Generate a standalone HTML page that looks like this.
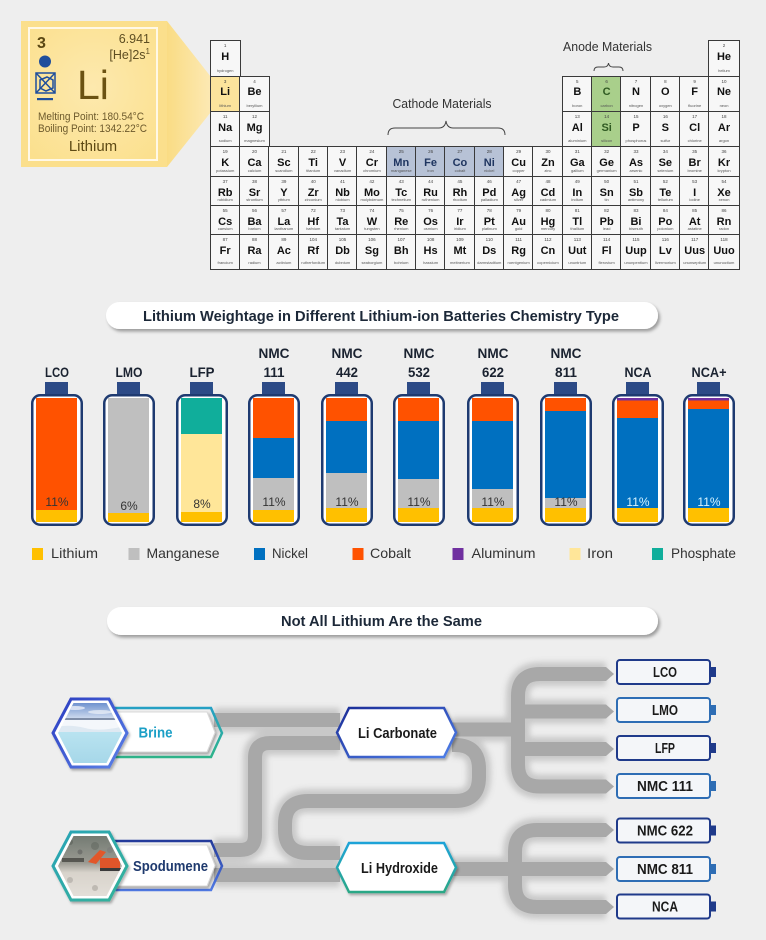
<!DOCTYPE html>
<html><head><meta charset="utf-8">
<style>
html,body{margin:0;padding:0;}
body{width:766px;height:940px;overflow:hidden;background:#eeeeee;position:relative;font-family:"Liberation Sans",sans-serif;}
svg{position:absolute;left:0;top:0;}
#pt{position:absolute;left:210.5px;top:41px;display:grid;grid-template-columns:repeat(18,29.35px);grid-template-rows:35.7px 35.6px 35px 30px 29px 29.2px 34px;}
.c{position:relative;background:#f7f7f7;outline:1px solid #3a3a3a;outline-offset:-0.5px;text-align:center;color:#111;}
.c i{position:absolute;left:0;right:0;top:2px;font-style:normal;font-size:4.5px;line-height:5px;color:#444;}
.c b{position:absolute;left:0;right:0;top:9.5px;font-size:11px;line-height:12px;}
.c s{position:absolute;left:0;right:0;bottom:4px;text-decoration:none;font-size:4px;line-height:5px;color:#555;white-space:nowrap;overflow:hidden;}
.c.li{background:#fce49c;}
.c.ca{background:#b7c2d6;}
.c.ca b{color:#1f3560;}
.c.an{background:#a9cf8b;}
.c.an b{color:#2f5a22;}
</style></head><body>
<svg width="766" height="940" viewBox="0 0 766 940" xmlns="http://www.w3.org/2000/svg" font-family="Liberation Sans, sans-serif">
<defs>
<linearGradient id="beam" x1="0" y1="0" x2="1" y2="0"><stop offset="0" stop-color="#fadc84"/><stop offset="1" stop-color="#fce9b4"/></linearGradient>
<radialGradient id="card" cx="0.5" cy="0.45" r="0.7"><stop offset="0" stop-color="#fde9ae"/><stop offset="1" stop-color="#fbe08e"/></radialGradient>
<filter id="blur" x="-10%" y="-10%" width="120%" height="120%"><feGaussianBlur stdDeviation="3"/></filter>
<filter id="sh" x="-10%" y="-40%" width="125%" height="200%"><feDropShadow dx="2" dy="2.5" stdDeviation="1.5" flood-color="#000" flood-opacity="0.35"/></filter>
<filter id="sh2" x="-10%" y="-20%" width="125%" height="150%"><feDropShadow dx="1.5" dy="2" stdDeviation="1.2" flood-color="#000" flood-opacity="0.3"/></filter>
<linearGradient id="gBrine" x1="0" y1="0" x2="0" y2="1"><stop offset="0" stop-color="#25a0c4"/><stop offset="1" stop-color="#2fb48a"/></linearGradient>
<linearGradient id="gSpod" x1="0" y1="0" x2="0" y2="1"><stop offset="0" stop-color="#233a9a"/><stop offset="1" stop-color="#5079e4"/></linearGradient>
<linearGradient id="gCarb" x1="0" y1="0" x2="1" y2="1"><stop offset="0" stop-color="#1b2c96"/><stop offset="1" stop-color="#4f80ea"/></linearGradient>
<linearGradient id="gHyd" x1="0" y1="0" x2="0" y2="1"><stop offset="0" stop-color="#1fa3d8"/><stop offset="1" stop-color="#2aa886"/></linearGradient>
<linearGradient id="gHexB" x1="0" y1="0" x2="1" y2="1"><stop offset="0" stop-color="#2a3cc0"/><stop offset="1" stop-color="#5c82e8"/></linearGradient>
<linearGradient id="gHexS" x1="0" y1="0" x2="1" y2="1"><stop offset="0" stop-color="#2aa3b6"/><stop offset="1" stop-color="#34b39a"/></linearGradient>
<linearGradient id="sky" x1="0" y1="0" x2="0" y2="1"><stop offset="0" stop-color="#5d84c8"/><stop offset="1" stop-color="#d7e2f2"/></linearGradient>
<linearGradient id="water" x1="0" y1="0" x2="0" y2="1"><stop offset="0" stop-color="#b9e3f0"/><stop offset="1" stop-color="#a4d6e8"/></linearGradient>
<linearGradient id="rock" x1="0" y1="0" x2="0" y2="1"><stop offset="0" stop-color="#6f776f"/><stop offset="0.45" stop-color="#9a9a92"/><stop offset="0.6" stop-color="#d8d3cb"/><stop offset="1" stop-color="#e4e0da"/></linearGradient>
<clipPath id="hb"><polygon points="58,733 73.5,703 106.5,703 122,733 106.5,763 73.5,763"/></clipPath>
<clipPath id="hs"><polygon points="58,866 73.5,836 106.5,836 122,866 106.5,896 73.5,896"/></clipPath>
</defs>

<!-- Li card + beam -->
<polygon points="167,21 211,77 211,112 167,167" fill="url(#beam)"/>
<rect x="21" y="21" width="146" height="146" fill="#fbdf8c"/>
<rect x="29" y="28" width="128" height="132" fill="url(#card)" stroke="#fff8e6" stroke-width="2"/>
<text x="37" y="48" font-size="16" font-weight="bold" fill="#5a4713">3</text>
<text x="150" y="43" font-size="12.5" fill="#5e4e22" text-anchor="end">6.941</text>
<text x="150" y="59" font-size="12.5" fill="#5e4e22" text-anchor="end">[He]2s<tspan font-size="8" dy="-5">1</tspan></text>
<circle cx="45" cy="61.5" r="6" fill="#1f4e9c"/>
<g stroke="#1f4e9c" stroke-width="1.5" fill="none">
<rect x="36" y="73" width="19" height="20"/>
<line x1="36" y1="73" x2="55" y2="93"/><line x1="55" y1="73" x2="36" y2="93"/>
<polygon points="40,80 47,77 53,80 53,88 46,91 40,88"/>
</g>
<rect x="37" y="98" width="16" height="2.2" fill="#1f4e9c"/>
<text x="77" y="99" font-size="41" fill="#6b5212">Li</text>
<text x="38" y="120" font-size="11" fill="#6d5a2c" textLength="106" lengthAdjust="spacingAndGlyphs">Melting Point: 180.54°C</text>
<text x="38" y="132" font-size="11" fill="#6d5a2c" textLength="109" lengthAdjust="spacingAndGlyphs">Boiling Point: 1342.22°C</text>
<text x="93" y="151" font-size="15" fill="#5e4a14" text-anchor="middle">Lithium</text>

<!-- Periodic table labels -->
<text x="442" y="108" font-size="13" fill="#333" text-anchor="middle" textLength="99" lengthAdjust="spacingAndGlyphs">Cathode Materials</text>
<path d="M388 135 Q388 128 395 128 L439 128 Q445 128 446 121 Q447 128 453 128 L498 128 Q505 128 505 135" fill="none" stroke="#444" stroke-width="1"/>
<text x="607.5" y="51" font-size="13" fill="#333" text-anchor="middle" textLength="89" lengthAdjust="spacingAndGlyphs">Anode Materials</text>
<path d="M594 71 Q594 67 598 67 L604 67 Q608 67 608.5 63 Q609 67 613 67 L619 67 Q623 67 623 71" fill="none" stroke="#444" stroke-width="1"/>

<!-- Title pill 1 -->
<rect x="106" y="302" width="552" height="27" rx="13.5" fill="#fff" filter="url(#sh)"/>
<text x="381" y="321" font-size="15" font-weight="bold" fill="#1c2838" text-anchor="middle" textLength="476" lengthAdjust="spacingAndGlyphs">Lithium Weightage in Different Lithium-ion Batteries Chemistry Type</text>

<!-- Battery labels -->
<g font-size="14" font-weight="bold" fill="#1a2230" text-anchor="middle">
<text x="57" y="377" textLength="24" lengthAdjust="spacingAndGlyphs">LCO</text>
<text x="129" y="377" textLength="27" lengthAdjust="spacingAndGlyphs">LMO</text>
<text x="202" y="377" textLength="25" lengthAdjust="spacingAndGlyphs">LFP</text>
<text x="274" y="358" textLength="31" lengthAdjust="spacingAndGlyphs">NMC</text>
<text x="274" y="377" textLength="21" lengthAdjust="spacingAndGlyphs">111</text>
<text x="347" y="358" textLength="31" lengthAdjust="spacingAndGlyphs">NMC</text>
<text x="347" y="377" textLength="22" lengthAdjust="spacingAndGlyphs">442</text>
<text x="419" y="358" textLength="31" lengthAdjust="spacingAndGlyphs">NMC</text>
<text x="419" y="377" textLength="22" lengthAdjust="spacingAndGlyphs">532</text>
<text x="493" y="358" textLength="31" lengthAdjust="spacingAndGlyphs">NMC</text>
<text x="493" y="377" textLength="22" lengthAdjust="spacingAndGlyphs">622</text>
<text x="566" y="358" textLength="31" lengthAdjust="spacingAndGlyphs">NMC</text>
<text x="566" y="377" textLength="22" lengthAdjust="spacingAndGlyphs">811</text>
<text x="638" y="377" textLength="27" lengthAdjust="spacingAndGlyphs">NCA</text>
<text x="709" y="377" textLength="35" lengthAdjust="spacingAndGlyphs">NCA+</text>
</g>

<!-- Battery caps -->
<g fill="#2c4a86">
<rect x="45" y="382" width="23" height="13"/><rect x="117" y="382" width="23" height="13"/><rect x="190" y="382" width="23" height="13"/>
<rect x="262" y="382" width="23" height="13"/><rect x="335" y="382" width="23" height="13"/><rect x="407" y="382" width="23" height="13"/>
<rect x="481" y="382" width="23" height="13"/><rect x="554" y="382" width="23" height="13"/><rect x="626" y="382" width="23" height="13"/>
<rect x="697" y="382" width="23" height="13"/>
</g>
<!-- Battery bodies -->
<g fill="#fff" stroke="#1e3a70" stroke-width="2.5">
<rect x="32.25" y="395.25" width="49.5" height="129.5" rx="8"/>
<rect x="104.25" y="395.25" width="49.5" height="129.5" rx="8"/>
<rect x="177.25" y="395.25" width="49.5" height="129.5" rx="8"/>
<rect x="249.25" y="395.25" width="49.5" height="129.5" rx="8"/>
<rect x="322.25" y="395.25" width="49.5" height="129.5" rx="8"/>
<rect x="394.25" y="395.25" width="49.5" height="129.5" rx="8"/>
<rect x="468.25" y="395.25" width="49.5" height="129.5" rx="8"/>
<rect x="541.25" y="395.25" width="49.5" height="129.5" rx="8"/>
<rect x="613.25" y="395.25" width="49.5" height="129.5" rx="8"/>
<rect x="684.25" y="395.25" width="49.5" height="129.5" rx="8"/>
</g>
<!-- LCO -->
<rect x="36" y="398" width="41" height="112" fill="#ff5200"/><rect x="36" y="510" width="41" height="12" fill="#ffc000"/>
<!-- LMO -->
<rect x="108" y="398" width="41" height="115" fill="#bfbfbf"/><rect x="108" y="513" width="41" height="9" fill="#ffc000"/>
<!-- LFP -->
<rect x="181" y="398" width="41" height="36" fill="#10ae9b"/><rect x="181" y="434" width="41" height="78" fill="#ffe699"/><rect x="181" y="512" width="41" height="10" fill="#ffc000"/>
<!-- NMC111 -->
<rect x="253" y="398" width="41" height="40" fill="#ff5200"/><rect x="253" y="438" width="41" height="40" fill="#0070c0"/><rect x="253" y="478" width="41" height="32" fill="#bfbfbf"/><rect x="253" y="510" width="41" height="12" fill="#ffc000"/>
<!-- NMC442 -->
<rect x="326" y="398" width="41" height="23" fill="#ff5200"/><rect x="326" y="421" width="41" height="52" fill="#0070c0"/><rect x="326" y="473" width="41" height="35" fill="#bfbfbf"/><rect x="326" y="508" width="41" height="14" fill="#ffc000"/>
<!-- NMC532 -->
<rect x="398" y="398" width="41" height="23" fill="#ff5200"/><rect x="398" y="421" width="41" height="58" fill="#0070c0"/><rect x="398" y="479" width="41" height="29" fill="#bfbfbf"/><rect x="398" y="508" width="41" height="14" fill="#ffc000"/>
<!-- NMC622 -->
<rect x="472" y="398" width="41" height="23" fill="#ff5200"/><rect x="472" y="421" width="41" height="68" fill="#0070c0"/><rect x="472" y="489" width="41" height="19" fill="#bfbfbf"/><rect x="472" y="508" width="41" height="14" fill="#ffc000"/>
<!-- NMC811 -->
<rect x="545" y="398" width="41" height="13" fill="#ff5200"/><rect x="545" y="411" width="41" height="87" fill="#0070c0"/><rect x="545" y="498" width="41" height="10" fill="#bfbfbf"/><rect x="545" y="508" width="41" height="14" fill="#ffc000"/>
<!-- NCA -->
<rect x="617" y="398" width="41" height="2.5" fill="#7030a0"/><rect x="617" y="400.5" width="41" height="17.5" fill="#ff5200"/><rect x="617" y="418" width="41" height="90" fill="#0070c0"/><rect x="617" y="508" width="41" height="14" fill="#ffc000"/>
<!-- NCA+ -->
<rect x="688" y="398" width="41" height="2.5" fill="#7030a0"/><rect x="688" y="400.5" width="41" height="8.5" fill="#ff5200"/><rect x="688" y="409" width="41" height="99" fill="#0070c0"/><rect x="688" y="508" width="41" height="14" fill="#ffc000"/>
<!-- percents -->
<g font-size="12" fill="#333" text-anchor="middle">
<text x="57" y="506">11%</text>
<text x="129" y="510">6%</text>
<text x="202" y="508">8%</text>
<text x="274" y="506">11%</text>
<text x="347" y="506">11%</text>
<text x="419" y="506">11%</text>
<text x="493" y="506">11%</text>
<text x="566" y="506">11%</text>
<text x="638" y="506" fill="#d6f3ff">11%</text>
<text x="709" y="506" fill="#d6f3ff">11%</text>
</g>

<!-- Legend -->
<rect x="32" y="548" width="11" height="12" fill="#ffc000"/>
<rect x="128.5" y="548" width="11" height="12" fill="#bfbfbf"/>
<rect x="254" y="548" width="11" height="12" fill="#0070c0"/>
<rect x="352.5" y="548" width="11" height="12" fill="#ff5200"/>
<rect x="452.5" y="548" width="11" height="12" fill="#7030a0"/>
<rect x="569.5" y="548" width="11" height="12" fill="#ffe699"/>
<rect x="652" y="548" width="11" height="12" fill="#10ae9b"/>
<g font-size="14" fill="#333">
<text x="51" y="558" textLength="47" lengthAdjust="spacingAndGlyphs">Lithium</text>
<text x="146.5" y="558" textLength="73" lengthAdjust="spacingAndGlyphs">Manganese</text>
<text x="272" y="558" textLength="36" lengthAdjust="spacingAndGlyphs">Nickel</text>
<text x="370" y="558" textLength="41" lengthAdjust="spacingAndGlyphs">Cobalt</text>
<text x="471.5" y="558" textLength="64" lengthAdjust="spacingAndGlyphs">Aluminum</text>
<text x="587" y="558" textLength="26" lengthAdjust="spacingAndGlyphs">Iron</text>
<text x="671" y="558" textLength="65" lengthAdjust="spacingAndGlyphs">Phosphate</text>
</g>

<!-- Title pill 2 -->
<rect x="107" y="607" width="551" height="28" rx="14" fill="#fff" filter="url(#sh)"/>
<text x="381.5" y="626" font-size="15" font-weight="bold" fill="#1c2838" text-anchor="middle" textLength="201" lengthAdjust="spacingAndGlyphs">Not All Lithium Are the Same</text>

<!-- Pipes halo -->
<g fill="none" stroke="#c4c4c4" stroke-width="24" filter="url(#blur)" opacity="0.9">
<path d="M214 720 H340"/>
<path d="M214 850 H240 Q255 850 255 835 V758 Q255 743 270 743 H340"/>
<path d="M214 875 H340"/>
<path d="M452 745 H455 Q479 745 479 769 V777 Q479 801 455 801 H308 Q285 801 285 824 V830 Q285 853 308 853 H340"/>
<path d="M452 729.5 H518"/>
<path d="M606 674 H540 Q518 674 518 696 V764.5 Q518 786.5 540 786.5 H606"/>
<path d="M518 711.5 H606"/><path d="M518 749 H606"/>
<path d="M452 869 H606"/>
<path d="M606 830 H537 Q515 830 515 852 V885 Q515 907 537 907 H606"/>
</g>
<!-- Pipes -->
<g fill="none" stroke="#a8a8a8" stroke-width="14">
<path d="M214 720 H340"/>
<path d="M214 850 H240 Q255 850 255 835 V758 Q255 743 270 743 H340"/>
<path d="M214 875 H340"/>
<path d="M452 745 H455 Q479 745 479 769 V777 Q479 801 455 801 H308 Q285 801 285 824 V830 Q285 853 308 853 H340"/>
<path d="M452 729.5 H518"/>
<path d="M606 674 H540 Q518 674 518 696 V764.5 Q518 786.5 540 786.5 H606"/>
<path d="M518 711.5 H606"/><path d="M518 749 H606"/>
<path d="M452 869 H606"/>
<path d="M606 830 H537 Q515 830 515 852 V885 Q515 907 537 907 H606"/>
</g>
<g fill="#a8a8a8">
<polygon points="606,667 614,674 606,681"/>
<polygon points="606,704.5 614,711.5 606,718.5"/>
<polygon points="606,742 614,749 606,756"/>
<polygon points="606,779.5 614,786.5 606,793.5"/>
<polygon points="606,823 614,830 606,837"/>
<polygon points="606,862 614,869 606,876"/>
<polygon points="606,900 614,907 606,914"/>
</g>

<!-- Brine label -->
<polygon points="112,708 211,708 222,733 211,757 112,757" fill="none" stroke="url(#gBrine)" stroke-width="2.5"/>
<polygon points="112,712 207,712 215,732.5 207,752 112,752" fill="#fff" stroke="#d8d8d8" stroke-width="1" filter="url(#sh2)"/>
<text x="155.5" y="737.5" font-size="15" font-weight="bold" fill="#1b9fc6" text-anchor="middle" textLength="34" lengthAdjust="spacingAndGlyphs">Brine</text>
<!-- Brine hex -->
<polygon points="53,733 71,699 109,699 127,733 109,767 71,767" fill="#fff" stroke="url(#gHexB)" stroke-width="3" filter="url(#sh2)"/>
<g clip-path="url(#hb)">
<rect x="55" y="700" width="70" height="20" fill="url(#sky)"/>
<ellipse cx="75" cy="708" rx="10" ry="2" fill="#e9eef7" opacity="0.8"/>
<ellipse cx="100" cy="712" rx="12" ry="2" fill="#eef2f8" opacity="0.7"/>
<rect x="55" y="718" width="70" height="2" fill="#7f8ea8"/>
<rect x="55" y="720" width="70" height="12" fill="#f4f7fb"/>
<path d="M55 727 Q70 724 85 728 T125 726 V732 H55Z" fill="#dfe9f2"/>
<rect x="55" y="732" width="70" height="35" fill="url(#water)"/>
</g>

<!-- Spodumene label -->
<polygon points="112,841 211,841 222,866 211,890 112,890" fill="none" stroke="url(#gSpod)" stroke-width="2.5"/>
<polygon points="112,845 207,845 215,865.5 207,886 112,886" fill="#fff" stroke="#d8d8d8" stroke-width="1" filter="url(#sh2)"/>
<text x="170.5" y="871" font-size="15" font-weight="bold" fill="#1f3a6e" text-anchor="middle" textLength="75" lengthAdjust="spacingAndGlyphs">Spodumene</text>
<!-- Spodumene hex -->
<polygon points="53,866 71,832 109,832 127,866 109,900 71,900" fill="#fff" stroke="url(#gHexS)" stroke-width="3" filter="url(#sh2)"/>
<g clip-path="url(#hs)">
<rect x="55" y="833" width="70" height="66" fill="url(#rock)"/>
<circle cx="70" cy="842" r="3" fill="#5a5f58" opacity="0.6"/><circle cx="95" cy="846" r="4" fill="#5e645c" opacity="0.5"/>
<circle cx="110" cy="850" r="3" fill="#777" opacity="0.5"/><circle cx="80" cy="852" r="2.5" fill="#555" opacity="0.5"/>
<rect x="62" y="858" width="22" height="4" fill="#3a3a36" opacity="0.7"/>
<path d="M88 862 L100 850 L106 852 L96 864Z" fill="#e2572a"/>
<rect x="100" y="858" width="20" height="10" fill="#e0552a"/>
<rect x="100" y="868" width="22" height="3" fill="#3a3a3a"/>
<circle cx="70" cy="880" r="3" fill="#b0aca6" opacity="0.7"/><circle cx="95" cy="888" r="3" fill="#a9a49d" opacity="0.6"/>
</g>

<!-- Li Carbonate / Li Hydroxide -->
<polygon points="337,732.5 349,708 444,708 456,732.5 444,757 349,757" fill="#fff" stroke="url(#gCarb)" stroke-width="2.5" filter="url(#sh2)"/>
<text x="397.5" y="738" font-size="14.5" font-weight="bold" fill="#1a1a1a" text-anchor="middle" textLength="79" lengthAdjust="spacingAndGlyphs">Li Carbonate</text>
<polygon points="337,867.5 349,843 444,843 456,867.5 444,892 349,892" fill="#fff" stroke="url(#gHyd)" stroke-width="2.5" filter="url(#sh2)"/>
<text x="399.5" y="873" font-size="14.5" font-weight="bold" fill="#1a1a1a" text-anchor="middle" textLength="77" lengthAdjust="spacingAndGlyphs">Li Hydroxide</text>

<!-- Right battery boxes -->
<g fill="#f4f6f9" stroke-width="2">
<rect x="617" y="660" width="93" height="24" rx="3" stroke="#1f3a8a"/>
<rect x="617" y="698" width="93" height="24" rx="3" stroke="#2e6db4"/>
<rect x="617" y="736" width="93" height="24" rx="3" stroke="#1f3a8a"/>
<rect x="617" y="774" width="93" height="24" rx="3" stroke="#2e6db4"/>
<rect x="617" y="818.5" width="93" height="24" rx="3" stroke="#1f3a8a"/>
<rect x="617" y="857" width="93" height="24" rx="3" stroke="#2e6db4"/>
<rect x="617" y="894.5" width="93" height="24" rx="3" stroke="#1f3a8a"/>
</g>
<g>
<rect x="710" y="667" width="6" height="10" fill="#1f3a8a"/>
<rect x="710" y="705" width="6" height="10" fill="#2e6db4"/>
<rect x="710" y="743" width="6" height="10" fill="#1f3a8a"/>
<rect x="710" y="781" width="6" height="10" fill="#2e6db4"/>
<rect x="710" y="825.5" width="6" height="10" fill="#1f3a8a"/>
<rect x="710" y="864" width="6" height="10" fill="#2e6db4"/>
<rect x="710" y="901.5" width="6" height="10" fill="#1f3a8a"/>
</g>
<g font-size="14.5" font-weight="bold" fill="#1a1a1a" text-anchor="middle">
<text x="665" y="677" textLength="24" lengthAdjust="spacingAndGlyphs">LCO</text>
<text x="665" y="715" textLength="26" lengthAdjust="spacingAndGlyphs">LMO</text>
<text x="665" y="753" textLength="20" lengthAdjust="spacingAndGlyphs">LFP</text>
<text x="665" y="791" textLength="56" lengthAdjust="spacingAndGlyphs">NMC 111</text>
<text x="665" y="835.5" textLength="56" lengthAdjust="spacingAndGlyphs">NMC 622</text>
<text x="665" y="874" textLength="56" lengthAdjust="spacingAndGlyphs">NMC 811</text>
<text x="665" y="911.5" textLength="26" lengthAdjust="spacingAndGlyphs">NCA</text>
</g>
</svg>

<div id="pt">
<div class="c"><i>1</i><b>H</b><s>hydrogen</s></div>
<div class="c" style="grid-column:18"><i>2</i><b>He</b><s>helium</s></div>
<div class="c li"><i>3</i><b>Li</b><s>lithium</s></div>
<div class="c"><i>4</i><b>Be</b><s>beryllium</s></div>
<div class="c" style="grid-column:13"><i>5</i><b>B</b><s>boron</s></div>
<div class="c an"><i>6</i><b>C</b><s>carbon</s></div>
<div class="c"><i>7</i><b>N</b><s>nitrogen</s></div>
<div class="c"><i>8</i><b>O</b><s>oxygen</s></div>
<div class="c"><i>9</i><b>F</b><s>fluorine</s></div>
<div class="c"><i>10</i><b>Ne</b><s>neon</s></div>
<div class="c"><i>11</i><b>Na</b><s>sodium</s></div>
<div class="c"><i>12</i><b>Mg</b><s>magnesium</s></div>
<div class="c" style="grid-column:13"><i>13</i><b>Al</b><s>aluminium</s></div>
<div class="c an"><i>14</i><b>Si</b><s>silicon</s></div>
<div class="c"><i>15</i><b>P</b><s>phosphorus</s></div>
<div class="c"><i>16</i><b>S</b><s>sulfur</s></div>
<div class="c"><i>17</i><b>Cl</b><s>chlorine</s></div>
<div class="c"><i>18</i><b>Ar</b><s>argon</s></div>
<div class="c"><i>19</i><b>K</b><s>potassium</s></div>
<div class="c"><i>20</i><b>Ca</b><s>calcium</s></div>
<div class="c"><i>21</i><b>Sc</b><s>scandium</s></div>
<div class="c"><i>22</i><b>Ti</b><s>titanium</s></div>
<div class="c"><i>23</i><b>V</b><s>vanadium</s></div>
<div class="c"><i>24</i><b>Cr</b><s>chromium</s></div>
<div class="c ca"><i>25</i><b>Mn</b><s>manganese</s></div>
<div class="c ca"><i>26</i><b>Fe</b><s>iron</s></div>
<div class="c ca"><i>27</i><b>Co</b><s>cobalt</s></div>
<div class="c ca"><i>28</i><b>Ni</b><s>nickel</s></div>
<div class="c"><i>29</i><b>Cu</b><s>copper</s></div>
<div class="c"><i>30</i><b>Zn</b><s>zinc</s></div>
<div class="c"><i>31</i><b>Ga</b><s>gallium</s></div>
<div class="c"><i>32</i><b>Ge</b><s>germanium</s></div>
<div class="c"><i>33</i><b>As</b><s>arsenic</s></div>
<div class="c"><i>34</i><b>Se</b><s>selenium</s></div>
<div class="c"><i>35</i><b>Br</b><s>bromine</s></div>
<div class="c"><i>36</i><b>Kr</b><s>krypton</s></div>
<div class="c"><i>37</i><b>Rb</b><s>rubidium</s></div>
<div class="c"><i>38</i><b>Sr</b><s>strontium</s></div>
<div class="c"><i>39</i><b>Y</b><s>yttrium</s></div>
<div class="c"><i>40</i><b>Zr</b><s>zirconium</s></div>
<div class="c"><i>41</i><b>Nb</b><s>niobium</s></div>
<div class="c"><i>42</i><b>Mo</b><s>molybdenum</s></div>
<div class="c"><i>43</i><b>Tc</b><s>technetium</s></div>
<div class="c"><i>44</i><b>Ru</b><s>ruthenium</s></div>
<div class="c"><i>45</i><b>Rh</b><s>rhodium</s></div>
<div class="c"><i>46</i><b>Pd</b><s>palladium</s></div>
<div class="c"><i>47</i><b>Ag</b><s>silver</s></div>
<div class="c"><i>48</i><b>Cd</b><s>cadmium</s></div>
<div class="c"><i>49</i><b>In</b><s>indium</s></div>
<div class="c"><i>50</i><b>Sn</b><s>tin</s></div>
<div class="c"><i>51</i><b>Sb</b><s>antimony</s></div>
<div class="c"><i>52</i><b>Te</b><s>tellurium</s></div>
<div class="c"><i>53</i><b>I</b><s>iodine</s></div>
<div class="c"><i>54</i><b>Xe</b><s>xenon</s></div>
<div class="c"><i>55</i><b>Cs</b><s>caesium</s></div>
<div class="c"><i>56</i><b>Ba</b><s>barium</s></div>
<div class="c"><i>57</i><b>La</b><s>lanthanum</s></div>
<div class="c"><i>72</i><b>Hf</b><s>hafnium</s></div>
<div class="c"><i>73</i><b>Ta</b><s>tantalum</s></div>
<div class="c"><i>74</i><b>W</b><s>tungsten</s></div>
<div class="c"><i>75</i><b>Re</b><s>rhenium</s></div>
<div class="c"><i>76</i><b>Os</b><s>osmium</s></div>
<div class="c"><i>77</i><b>Ir</b><s>iridium</s></div>
<div class="c"><i>78</i><b>Pt</b><s>platinum</s></div>
<div class="c"><i>79</i><b>Au</b><s>gold</s></div>
<div class="c"><i>80</i><b>Hg</b><s>mercury</s></div>
<div class="c"><i>81</i><b>Tl</b><s>thallium</s></div>
<div class="c"><i>82</i><b>Pb</b><s>lead</s></div>
<div class="c"><i>83</i><b>Bi</b><s>bismuth</s></div>
<div class="c"><i>84</i><b>Po</b><s>polonium</s></div>
<div class="c"><i>85</i><b>At</b><s>astatine</s></div>
<div class="c"><i>86</i><b>Rn</b><s>radon</s></div>
<div class="c"><i>87</i><b>Fr</b><s>francium</s></div>
<div class="c"><i>88</i><b>Ra</b><s>radium</s></div>
<div class="c"><i>89</i><b>Ac</b><s>actinium</s></div>
<div class="c"><i>104</i><b>Rf</b><s>rutherfordium</s></div>
<div class="c"><i>105</i><b>Db</b><s>dubnium</s></div>
<div class="c"><i>106</i><b>Sg</b><s>seaborgium</s></div>
<div class="c"><i>107</i><b>Bh</b><s>bohrium</s></div>
<div class="c"><i>108</i><b>Hs</b><s>hassium</s></div>
<div class="c"><i>109</i><b>Mt</b><s>meitnerium</s></div>
<div class="c"><i>110</i><b>Ds</b><s>darmstadtium</s></div>
<div class="c"><i>111</i><b>Rg</b><s>roentgenium</s></div>
<div class="c"><i>112</i><b>Cn</b><s>copernicium</s></div>
<div class="c"><i>113</i><b>Uut</b><s>ununtrium</s></div>
<div class="c"><i>114</i><b>Fl</b><s>flerovium</s></div>
<div class="c"><i>115</i><b>Uup</b><s>ununpentium</s></div>
<div class="c"><i>116</i><b>Lv</b><s>livermorium</s></div>
<div class="c"><i>117</i><b>Uus</b><s>ununseptium</s></div>
<div class="c"><i>118</i><b>Uuo</b><s>ununoctium</s></div>
</div>
</body></html>
